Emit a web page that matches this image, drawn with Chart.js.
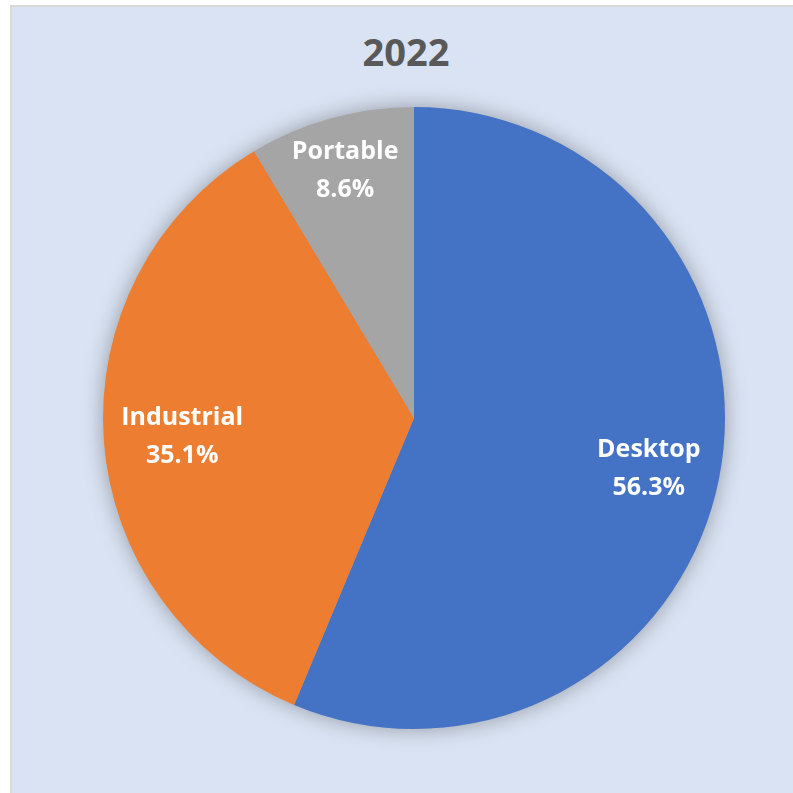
<!DOCTYPE html>
<html lang="en">
<head>
  <meta charset="UTF-8" />
  <title>2022</title>
  <style>
    html, body {
      margin: 0;
      width: 793px;
      height: 793px;
      overflow: hidden;
      background: #ffffff;
      font-family: 'Open Sans', sans-serif;
    }
    .frame {
      position: absolute;
      left: 10px;
      top: 5px;
      width: 800px;
      height: 800px;
      background: #dae3f3;
      border-left: 2px solid #d9d9d9;
      border-top: 2px solid #d9d9d9;
    }
    .title {
      position: absolute;
      left: 306px;
      width: 200px;
      top: 25px;
      text-align: center;
      font-size: 38px;
      font-weight: bold;
      line-height: 52px;
      color: #595959;
    }
    .chart-box {
      position: absolute;
      left: 0;
      top: 0;
      width: 793px;
      height: 793px;
    }
  </style>
</head>
<body>
  <div class="frame"></div>
  <div class="title">2022</div>
  <div class="chart-box"><canvas id="pie"></canvas></div>

  <script src="https://cdn.jsdelivr.net/npm/chart.js"></script>
  <script>
    const categories = ["Desktop", "Industrial", "Portable"];
    const shares = [56.3, 35.1, 8.6];
    const sliceColors = ["#4472c4", "#ed7d31", "#a5a5a5"];

    // soft glow under the whole pie, drawn once so slices don't shade each other
    const pieShadow = {
      id: "pieShadow",
      beforeDatasetsDraw(chart) {
        const arc = chart.getDatasetMeta(0).data[0];
        if (!arc) return;
        const ctx = chart.ctx;
        ctx.save();
        ctx.shadowColor = "rgba(0,0,0,0.35)";
        ctx.shadowBlur = 22;
        ctx.beginPath();
        ctx.arc(arc.x, arc.y, arc.outerRadius - 1, 0, Math.PI * 2);
        ctx.fillStyle = "#a5a5a5";
        ctx.fill();
        ctx.restore();
      }
    };

    // white two-line labels inside each slice
    const sliceLabels = {
      id: "sliceLabels",
      afterDatasetsDraw(chart, args, opts) {
        const ctx = chart.ctx;
        const meta = chart.getDatasetMeta(0);
        ctx.save();
        ctx.fillStyle = "#ffffff";
        ctx.font = "bold 25px 'Open Sans'";
        ctx.textAlign = "center";
        ctx.textBaseline = "middle";
        meta.data.forEach((arc, i) => {
          const mid = (arc.startAngle + arc.endAngle) / 2;
          const r = arc.outerRadius * 0.77;
          const nudge = opts.nudge[i] || [0, 0];
          const x = arc.x + Math.cos(mid) * r + nudge[0];
          const y = arc.y + Math.sin(mid) * r + nudge[1];
          ctx.fillText(categories[i], x, y - 19);
          ctx.fillText(shares[i].toFixed(1) + "%", x, y + 19);
        });
        ctx.restore();
      }
    };

    new Chart(document.getElementById("pie"), {
      type: "pie",
      data: {
        labels: categories,
        datasets: [{
          data: shares,
          backgroundColor: sliceColors,
          borderWidth: 0
        }]
      },
      options: {
        responsive: true,
        maintainAspectRatio: false,
        animation: false,
        layout: {
          padding: { left: 103, right: 68, top: 107, bottom: 64 }
        },
        plugins: {
          legend: { display: false },
          tooltip: { enabled: false },
          sliceLabels: { nudge: [[0, 4], [7, 2], [-5, -16]] }
        }
      },
      plugins: [pieShadow, sliceLabels]
    });
  </script>
</body>
</html>
